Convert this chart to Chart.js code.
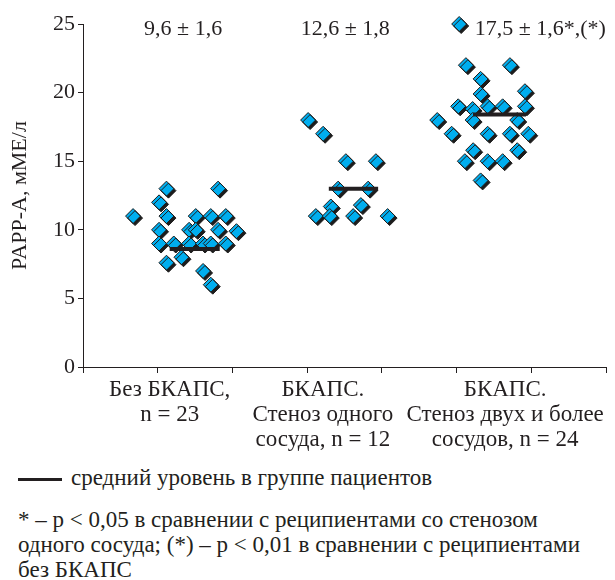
<!DOCTYPE html>
<html>
<head>
<meta charset="utf-8">
<script src="https://cdn.jsdelivr.net/npm/chart.js@4.4.1/dist/chart.umd.min.js"></script>
<style>
  body { margin: 0; background: #fff; }
  #wrap { position: relative; width: 615px; height: 580px; font-family: "Liberation Serif", "Times New Roman", serif; color: #231f20; }
  #box { position: absolute; left: 0; top: 0; width: 615px; height: 455px; }
  .legend { position: absolute; left: 18px; top: 464px; font-size: 23px; line-height: 28px; white-space: nowrap; }
  .legend .mark { display: inline-block; width: 44px; height: 3px; background: #231f20; vertical-align: middle; margin-right: 9px; }
  .notes { position: absolute; left: 18px; top: 507px; font-size: 23px; line-height: 25px; white-space: nowrap; }
</style>
</head>
<body>
<div id="wrap">
  <div id="box"><canvas id="chart"></canvas></div>
  <div class="legend"><span class="mark"></span>средний уровень в группе пациентов</div>
  <div class="notes">* – p &lt; 0,05 в сравнении с реципиентами со стенозом<br>одного сосуда; (*) – p &lt; 0,01 в сравнении с реципиентами<br>без БКАПС</div>
</div>
<script>
// группы пациентов (подписи по оси X, позиции подписей)
const groupLabels = [
  ["Без БКАПС,", "n = 23"],
  ["БКАПС.", "Стеноз одного", "сосуда, n = 12"],
  ["БКАПС.", "Стеноз двух и более", "сосудов, n = 24"]
];
const labelPos = [1.16, 3.21, 5.65];

// значения над группами
const statTexts = ["9,6 ± 1,6", "12,6 ± 1,8", "17,5 ± 1,6*,(*)"];
const statPos = [1.34, 3.51, 6.12];

const yTicks = [0, 5, 10, 15, 20, 25];

// PAPP-A, мМЕ/л — точки (x = разброс внутри группы)
const group1X = [1.117, 1.808, 1.018, 0.670, 1.117, 1.509, 1.710, 1.911, 1.018, 1.420, 1.509, 1.808, 2.054, 1.018, 1.215, 1.420, 1.607, 1.710, 1.911, 1.117, 1.318, 1.607, 1.710];
const group1Y = [13, 13, 12, 11, 11, 11, 11, 11, 10, 10, 10, 10, 9.9, 9, 9, 9, 9, 9, 9, 7.6, 8, 7, 6];

const group2X = [3.013, 3.214, 3.518, 3.920, 3.415, 3.817, 3.317, 3.719, 3.116, 3.303, 3.616, 4.077];
const group2Y = [18, 17, 15, 15, 13, 13, 11.7, 11.8, 11, 11, 11, 11];

const group3X = [5.035, 5.125, 5.714, 5.322, 5.322, 5.915, 5.022, 5.416, 5.617, 5.915, 5.215, 4.741, 5.215, 5.812, 4.934, 5.416, 5.714, 5.960, 5.222, 5.812, 5.111, 5.416, 5.617, 5.322];
const group3Y = [25, 22, 22, 21, 19.9, 20.1, 19, 19, 19, 19, 18.8, 18, 18, 18, 17, 17, 17, 17, 15.8, 15.8, 15, 15, 15, 13.6];

// средний уровень (линии)
const meanY = [8.6, 13, 18.4];
const meanFrom = [1.16, 3.29, 5.22];
const meanTo = [1.83, 3.95, 5.93];

const ink = "#231f20";
const serif = "'Liberation Serif', 'Times New Roman', serif";

const toPoints = (xs, ys) => xs.map((x, i) => ({ x: x, y: ys[i] }));

const meanSets = meanY.map((y, i) => ({
  type: "line",
  data: [{ x: meanFrom[i], y: y }, { x: meanTo[i], y: y }],
  borderColor: ink,
  borderWidth: 4,
  pointRadius: 0,
  clip: false
}));

const pointSet = (xs, ys) => ({
  type: "scatter",
  data: toPoints(xs, ys),
  shadow: true,
  pointStyle: "rectRot",
  pointRadius: 7.5,
  pointHoverRadius: 7.5,
  backgroundColor: "#00aeef",
  borderColor: "#1c1c1c",
  borderWidth: 1,
  clip: false
});

// тень ромбов
const shadowPlugin = {
  id: "shadow",
  beforeDatasetDraw(chart, args) {
    if (!chart.data.datasets[args.index].shadow) return;
    const ctx = chart.ctx;
    ctx.save();
    ctx.shadowColor = "#1c1c1c";
    ctx.shadowOffsetX = 2;
    ctx.shadowOffsetY = 2;
    ctx.shadowBlur = 0;
  },
  afterDatasetDraw(chart, args) {
    if (!chart.data.datasets[args.index].shadow) return;
    chart.ctx.restore();
  }
};

// подписи над группами
const statsPlugin = {
  id: "stats",
  afterDraw(chart) {
    const ctx = chart.ctx;
    const xs = chart.scales.x;
    const ys = chart.scales.y;
    ctx.save();
    ctx.font = "22px " + serif;
    ctx.fillStyle = ink;
    ctx.textAlign = "center";
    ctx.textBaseline = "middle";
    statTexts.forEach((t, i) => {
      ctx.fillText(t, xs.getPixelForValue(statPos[i]), ys.getPixelForValue(24.6));
    });
    ctx.restore();
  }
};

new Chart(document.getElementById("chart"), {
  data: {
    datasets: [
      ...meanSets,
      pointSet(group1X, group1Y),
      pointSet(group2X, group2Y),
      pointSet(group3X, group3Y)
    ]
  },
  options: {
    responsive: true,
    maintainAspectRatio: false,
    animation: false,
    layout: { padding: { top: 24, right: 9, left: 0, bottom: 0 } },
    plugins: { legend: { display: false }, tooltip: { enabled: false } },
    scales: {
      x: {
        type: "linear",
        position: "bottom",
        min: 0,
        max: 7,
        ticks: { display: false, stepSize: 1 },
        grid: { drawOnChartArea: false, drawTicks: true, tickLength: 6, color: ink },
        border: { color: ink, width: 1 },
        afterFit(scale) { scale.height = 2; }
      },
      x2: {
        type: "linear",
        position: "bottom",
        min: 0,
        max: 7,
        afterBuildTicks(scale) { scale.ticks = labelPos.map(v => ({ value: v })); },
        ticks: {
          autoSkip: false,
          maxRotation: 0,
          padding: 0,
          color: ink,
          font: { family: serif, size: 23, lineHeight: 1.1 },
          callback: (v, i) => groupLabels[i]
        },
        grid: { display: false },
        border: { display: false },
        afterFit(scale) { scale.height = 86; }
      },
      y: {
        min: 0,
        max: 25,
        afterBuildTicks(scale) { scale.ticks = yTicks.map(v => ({ value: v })); },
        ticks: { color: ink, padding: 3, font: { family: serif, size: 22 } },
        grid: { drawOnChartArea: false, drawTicks: true, tickLength: 5, color: ink },
        border: { color: ink, width: 1 },
        title: {
          display: true,
          text: "PAPP-A, мМЕ/л",
          color: ink,
          font: { family: serif, size: 22 },
          padding: { top: 7, bottom: 0 }
        },
        afterFit(scale) { scale.width = 83; }
      }
    }
  },
  plugins: [shadowPlugin, statsPlugin]
});
</script>
</body>
</html>
